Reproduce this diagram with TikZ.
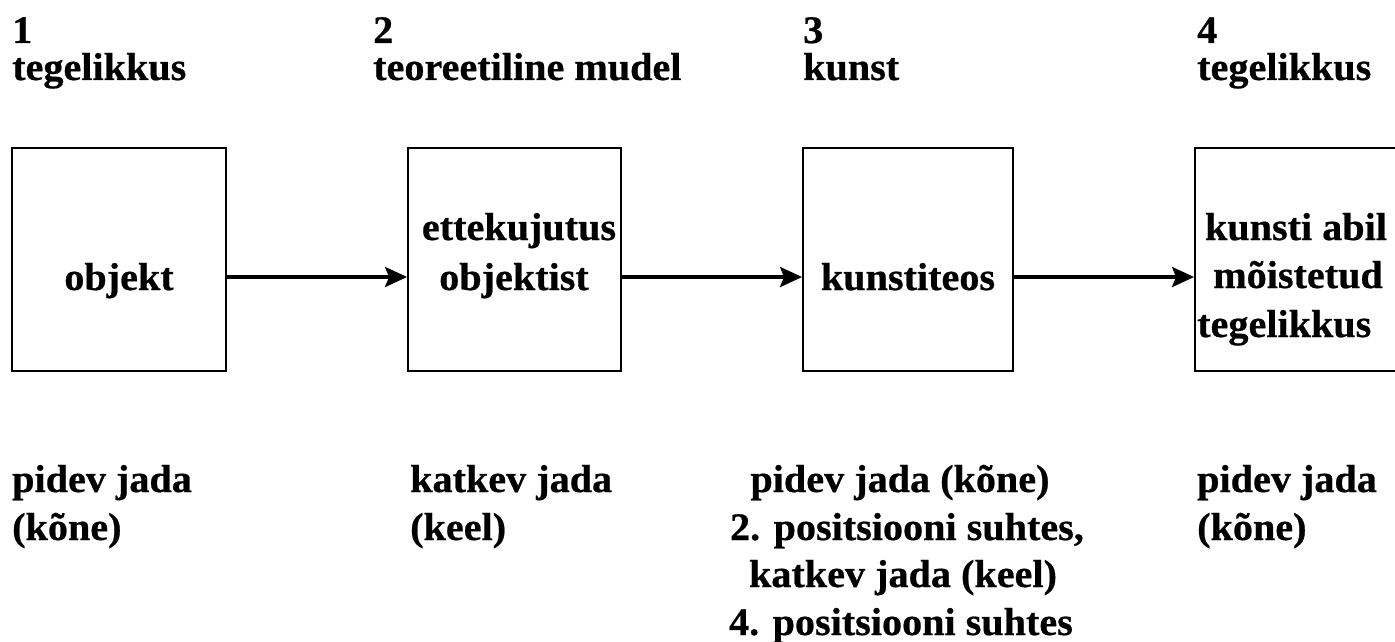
\documentclass[tikz,border=0pt]{standalone}
\usepackage{fontspec}
\setmainfont{Liberation Serif}
\newfontfamily\figfont[FakeStretch=1.03,FakeBold=0.6]{Liberation Serif Bold}
\usetikzlibrary{arrows.meta}
\begin{document}
\begin{tikzpicture}[x=1pt,y=-1pt,
  lbl/.style={font=\figfont\fontsize{39}{50}\selectfont, inner sep=0pt},
  box/.style={draw, line width=1.8pt, inner sep=0pt, minimum height=223pt},
  arr/.style={line width=3.8pt, -{Stealth[length=22pt,width=20pt,inset=4pt]}}]
\useasboundingbox (0,0) rectangle (1395,642);
\clip (0,0) rectangle (1395,642);
% headers
\node[lbl, anchor=base west] (h1n) at (12,43) {1};
\node[lbl, anchor=base west] (h1t) at (12,80) {tegelikkus};
\node[lbl, anchor=base west] (h2n) at (373,43) {2};
\node[lbl, anchor=base west] (h2t) at (373,80) {teoreetiline mudel};
\node[lbl, anchor=base west] (h3n) at (803,43) {3};
\node[lbl, anchor=base west] (h3t) at (803,80) {kunst};
\node[lbl, anchor=base west] (h4n) at (1197,43) {4};
\node[lbl, anchor=base west] (h4t) at (1197,80) {tegelikkus};
% boxes
\node[box, minimum width=214pt] (b1) at (119,259.5) {};
\node[box, minimum width=213pt] (b2) at (514.5,259.5) {};
\node[box, minimum width=210pt] (b3) at (908,259.5) {};
\node[box, minimum width=204pt] (b4) at (1297,259.5) {};
% box texts
\node[lbl, anchor=base] (t1) at (119,290) {objekt};
\node[lbl, anchor=base] (t2a) at (519,240) {ettekujutus};
\node[lbl, anchor=base] (t2b) at (514,290) {objektist};
\node[lbl, anchor=base] (t3) at (908,290) {kunstiteos};
\node[lbl, anchor=base] (t4a) at (1296,240) {kunsti abil};
\node[lbl, anchor=base] (t4b) at (1298,288) {mõistetud};
\node[lbl, anchor=base west] (t4c) at (1197,337) {tegelikkus};
% arrows
\draw[arr] ([yshift=-17.5pt]b1.east) -- ([yshift=-17.5pt]b2.west);
\draw[arr] ([yshift=-17.5pt]b2.east) -- ([yshift=-17.5pt]b3.west);
\draw[arr] ([yshift=-17.5pt]b3.east) -- ([yshift=-17.5pt]b4.west);
% bottom texts
\node[lbl, anchor=base west] (p1a) at (12,492) {pidev jada};
\node[lbl, anchor=base west] (p1b) at (12,540) {(kõne)};
\node[lbl, anchor=base west] (p2a) at (410,492) {katkev jada};
\node[lbl, anchor=base west] (p2b) at (410,540) {(keel)};
\node[lbl, anchor=base] (p3a) at (900,492) {pidev jada (kõne)};
\node[lbl, anchor=base] (p3b) at (907,540) {2. positsiooni suhtes,};
\node[lbl, anchor=base] (p3c) at (903,587) {katkev jada (keel)};
\node[lbl, anchor=base] (p3d) at (901,635) {4. positsiooni suhtes};
\node[lbl, anchor=base west] (p4a) at (1197,492) {pidev jada};
\node[lbl, anchor=base west] (p4b) at (1197,540) {(kõne)};
\end{tikzpicture}
\end{document}
